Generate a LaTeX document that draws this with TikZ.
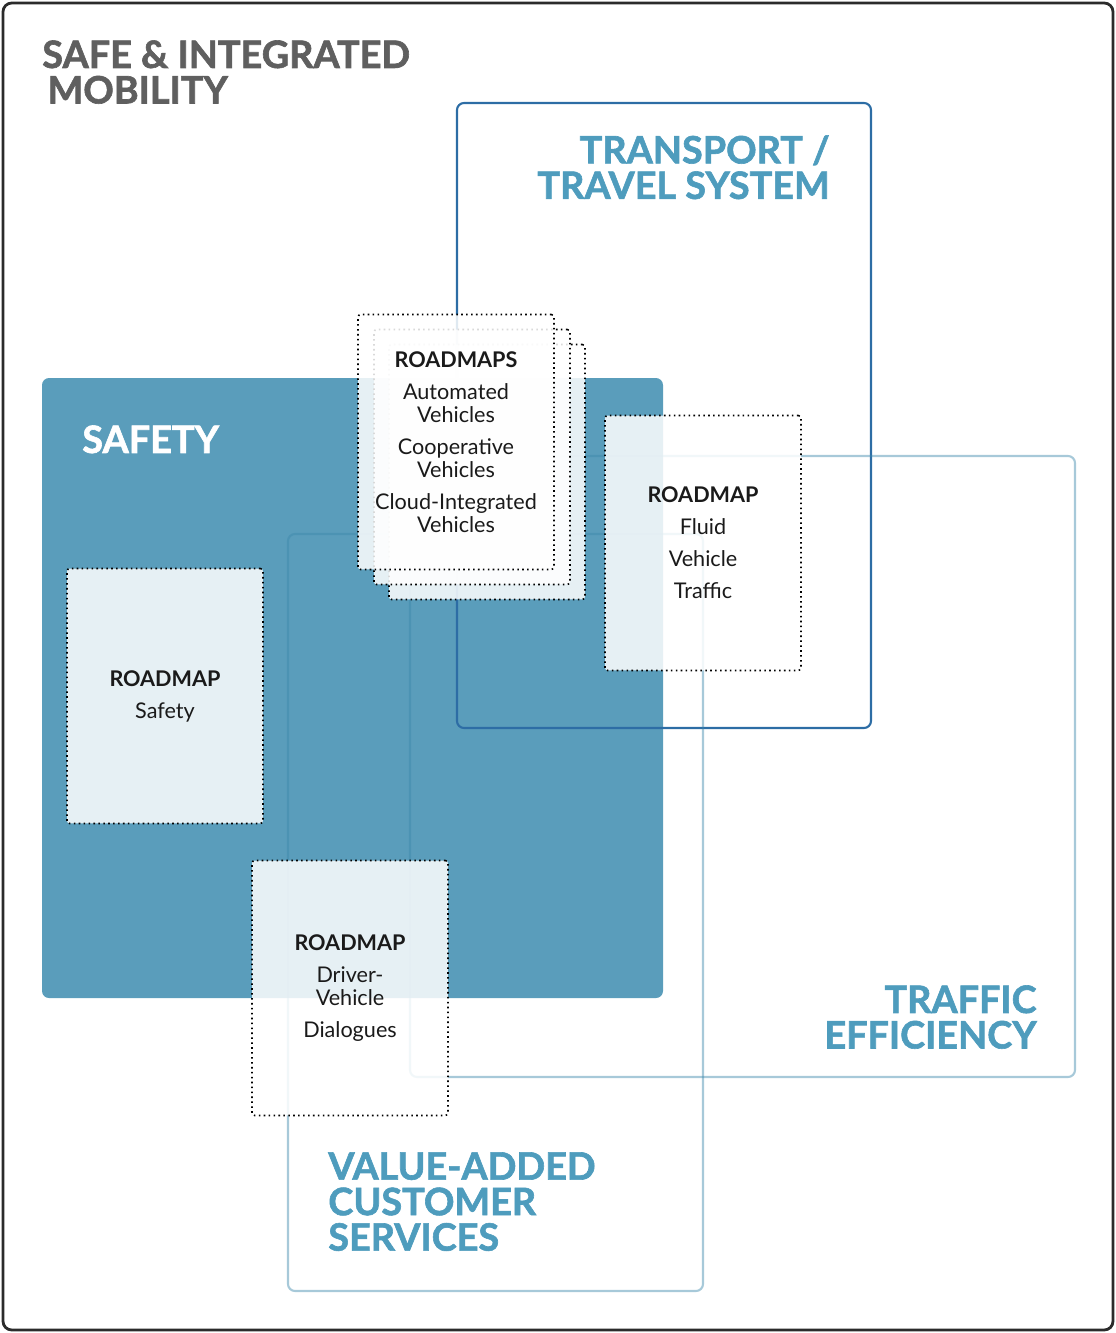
\documentclass[tikz,border=0pt]{standalone}
\usepackage{fontspec}
\setmainfont{Lato}
\newfontfamily\headfont{Lato}[BoldFeatures={FakeBold=1.6}]
\usepackage{tikz}
\definecolor{safetyblue}{HTML}{5A9DBB}
\definecolor{transportblue}{HTML}{2D6DA5}
\definecolor{lightline}{HTML}{3C87AB}
\definecolor{titleblue}{HTML}{4E9CBD}
\definecolor{headgray}{HTML}{5F5F5F}
\definecolor{framegray}{HTML}{2B2B2B}
\definecolor{textblack}{HTML}{1A1A1A}

\begin{document}
\begin{tikzpicture}[x=0.02cm,y=-0.02cm,
    big title/.style={font=\headfont\bfseries\fontsize{21.5}{20.2}\selectfont,inner sep=0pt},
    area line/.style={line width=1.2pt,rounded corners=4pt},
    roadmap/.style={draw=black,line width=0.9pt,dash pattern=on 0.9pt off 1.9pt,
      fill=white,fill opacity=0.85,text opacity=1,text=textblack,
      minimum width=3.92cm,minimum height=5.1cm,align=center,rounded corners=1.5pt,
      font=\fontsize{12.3}{13.2}\selectfont}]
    \useasboundingbox (0,0) rectangle (1116,1333);
    \draw[framegray,line width=1.6pt,rounded corners=5pt] (3,3) rectangle (1113,1330);
    \fill[safetyblue,rounded corners=4pt] (42,378) rectangle (663,998);
    \draw[area line,transportblue] (457,103) rectangle (871,728);
    \draw[area line,lightline,draw opacity=0.45] (410,456) rectangle (1075,1077);
    \draw[area line,lightline,draw opacity=0.45] (288,534) rectangle (703,1291);
    \node[big title,text=headgray,anchor=north west,align=left] (mobility_title) at (42,40)
      {SAFE \& INTEGRATED\\\hspace{3pt}MOBILITY};
    \node[big title,text=titleblue,anchor=north east,align=right] (transport_title) at (830,135)
      {TRANSPORT /\\TRAVEL SYSTEM};
    \node[big title,text=white,anchor=north west] (safety_title) at (82,425) {SAFETY};
    \node[big title,text=titleblue,anchor=north east,align=right] (traffic_title) at (1037,985)
      {TRAFFIC\\EFFICIENCY};
    \node[big title,text=titleblue,anchor=north west,align=left] (services_title) at (328,1152)
      {VALUE-ADDED\\CUSTOMER\\SERVICES};
    \node[roadmap] (rm_safety) at (165,696) {\textbf{ROADMAP}\\[5pt]Safety};
    \node[roadmap] (rm_driver) at (350,988) {\textbf{ROADMAP}\\[5pt]Driver-\\Vehicle\\[5pt]Dialogues};
    \node[roadmap] (rm_fluid) at (703,543) {\textbf{ROADMAP}\\[5pt]Fluid\\[5pt]Vehicle\\[5pt]Traffic};
    \node[roadmap] (rm_stack_back) at (487,472) {};
    \node[roadmap] (rm_stack_mid) at (472,457) {};
    \node[roadmap] (rm_stack) at (456,442)
      {\textbf{ROADMAPS}\\[5pt]Automated\\Vehicles\\[5pt]Cooperative\\Vehicles\\[5pt]Cloud-Integrated\\Vehicles};
\end{tikzpicture}
\end{document}
